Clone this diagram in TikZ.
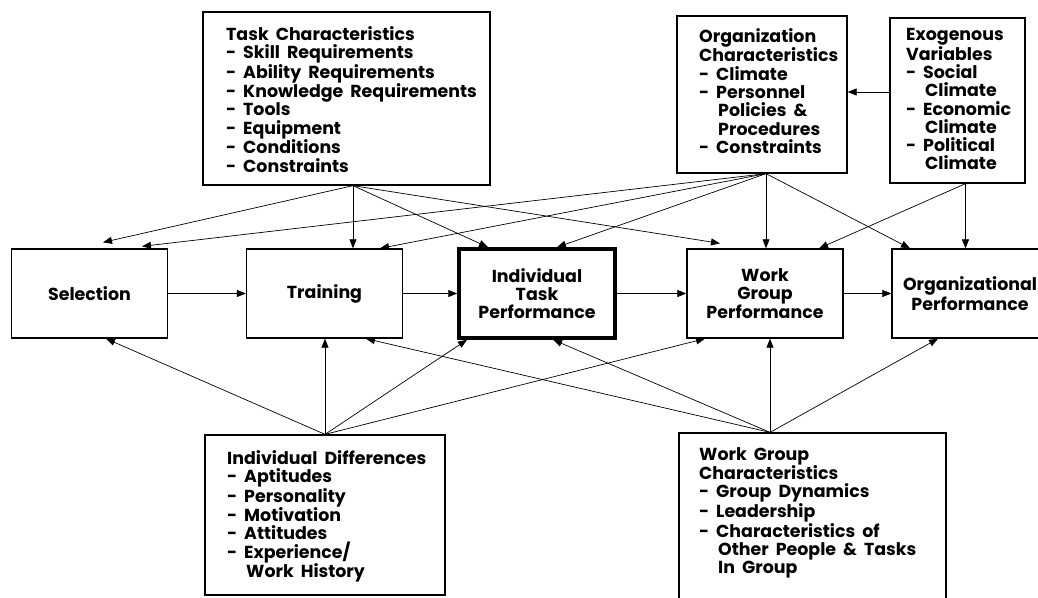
\documentclass[tikz,border=0pt]{standalone}
\usepackage{fontspec}
\setmainfont{Poppins}[WordSpace=1.9]
\usetikzlibrary{arrows.meta}
\newcommand\dfont{\fontsize{17.4}{18.3}\selectfont\bfseries}
\newcommand\itm{\makebox[17pt][l]{-}}
\newcommand\cnt{\hspace*{19pt}}
\begin{document}
\begin{tikzpicture}[x=1pt,y=-1pt,
  box/.style={draw, line width=1.3pt, inner sep=0pt},
  txt/.style={inner sep=0pt, anchor=north west, align=left, font=\dfont},
  mid/.style={box, minimum width=156pt, minimum height=89pt, align=center, font=\dfont},
  conn/.style={line width=0.7pt, -{Triangle[length=9pt,width=7pt]}}]
\useasboundingbox (0,0) rectangle (1038,597);
% boxes
\node[box, minimum width=287pt, minimum height=173pt] (task) at (346.5,98.5) {};
\node[txt] (taskt) at (226,26) {Task Characteristics\\
\itm Skill Requirements\\
\itm Ability Requirements\\
\itm Knowledge Requirements\\
\itm Tools\\
\itm Equipment\\
\itm Conditions\\
\itm Constraints};
\node[box, minimum width=170pt, minimum height=157pt] (org) at (762,94.5) {};
\node[txt] (orgt) at (699,28) {Organization\\
Characteristics\\
\itm Climate\\
\itm Personnel\\
\cnt Policies \&\\
\cnt Procedures\\
\itm Constraints};
\node[box, minimum width=135pt, minimum height=165pt] (exo) at (957.5,100.5) {};
\node[txt] (exot) at (906,28) {Exogenous\\
Variables\\
\itm Social\\
\cnt Climate\\
\itm Economic\\
\cnt Climate\\
\itm Political\\
\cnt Climate};
\node[box, minimum width=240pt, minimum height=160pt] (id) at (325,515) {};
\node[txt] (idt) at (227,450) {Individual Differences\\
\itm Aptitudes\\
\itm Personality\\
\itm Motivation\\
\itm Attitudes\\
\itm Experience/\\
\cnt Work History};
\node[box, minimum width=267pt, minimum height=177pt] (wgc) at (812.5,521.5) {};
\node[txt] (wgct) at (699,447) {Work Group\\
Characteristics\\
\itm Group Dynamics\\
\itm Leadership\\
\itm Characteristics of\\
\cnt Other People \& Tasks\\
\cnt In Group};
% middle row
\node[mid] (sel) at (89.5,293.5) {Selection};
\node[mid] (tr) at (324.5,293.5) {Training};
\node[mid, line width=3.5pt] (itp) at (537,293.5) {Individual\\Task\\Performance};
\node[mid] (wgp) at (765,293.5) {Work\\Group\\Performance};
\node[mid] (op) at (970,293.5) {Organizational\\Performance};
% horizontal
\draw[conn] (sel) -- (tr);
\draw[conn] (tr) -- (itp);
\draw[conn] (itp) -- (wgp);
\draw[conn] (wgp) -- (op);
\draw[conn] ([yshift=8.5pt]exo.west) -- ([yshift=8.5pt]exo.west -| org.east);
% from task
\draw[conn] ([xshift=6.5pt]task.south) -- ([xshift=13.5pt,yshift=6pt]sel.north);
\draw[conn] ([xshift=6.5pt]task.south) -- ([xshift=28.5pt]tr.north);
\draw[conn] ([xshift=6.5pt]task.south) -- ([xshift=-49pt]itp.north);
\draw[conn] ([xshift=6.5pt]task.south) -- ([xshift=-45pt,yshift=5pt]wgp.north);
% from org
\draw[conn] ([xshift=4pt]org.south) -- ([xshift=52.5pt,yshift=2pt]sel.north);
\draw[conn] ([xshift=4pt]org.south) -- ([xshift=55.5pt]tr.north);
\draw[conn] ([xshift=4pt]org.south) -- ([xshift=20pt]itp.north);
\draw[conn] ([xshift=4pt]org.south) -- ([xshift=4pt]org.south |- wgp.north);
\draw[conn] ([xshift=4pt]org.south) -- ([xshift=-60pt]op.north);
% from exo
\draw[conn] ([xshift=8pt]exo.south) -- ([xshift=54pt]wgp.north);
\draw[conn] ([xshift=8pt]exo.south) -- ([xshift=8pt]exo.south |- op.north);
% from individual differences
\draw[conn] (id.north) -- ([xshift=16.5pt]sel.south);
\draw[conn] (id.north) -- (id.north |- tr.south);
\draw[conn] (id.north) -- ([xshift=-70pt]itp.south);
\draw[conn] (id.north) -- ([xshift=-60pt]wgp.south);
% from work group characteristics
\draw[conn] ([xshift=-42.5pt]wgc.north) -- ([xshift=41.5pt]tr.south);
\draw[conn] ([xshift=-42.5pt]wgc.north) -- ([xshift=16pt]itp.south);
\draw[conn] ([xshift=-42.5pt]wgc.north) -- ([xshift=-42.5pt]wgc.north |- wgp.south);
\draw[conn] ([xshift=-42.5pt]wgc.north) -- ([xshift=-32pt]op.south);
\end{tikzpicture}
\end{document}
